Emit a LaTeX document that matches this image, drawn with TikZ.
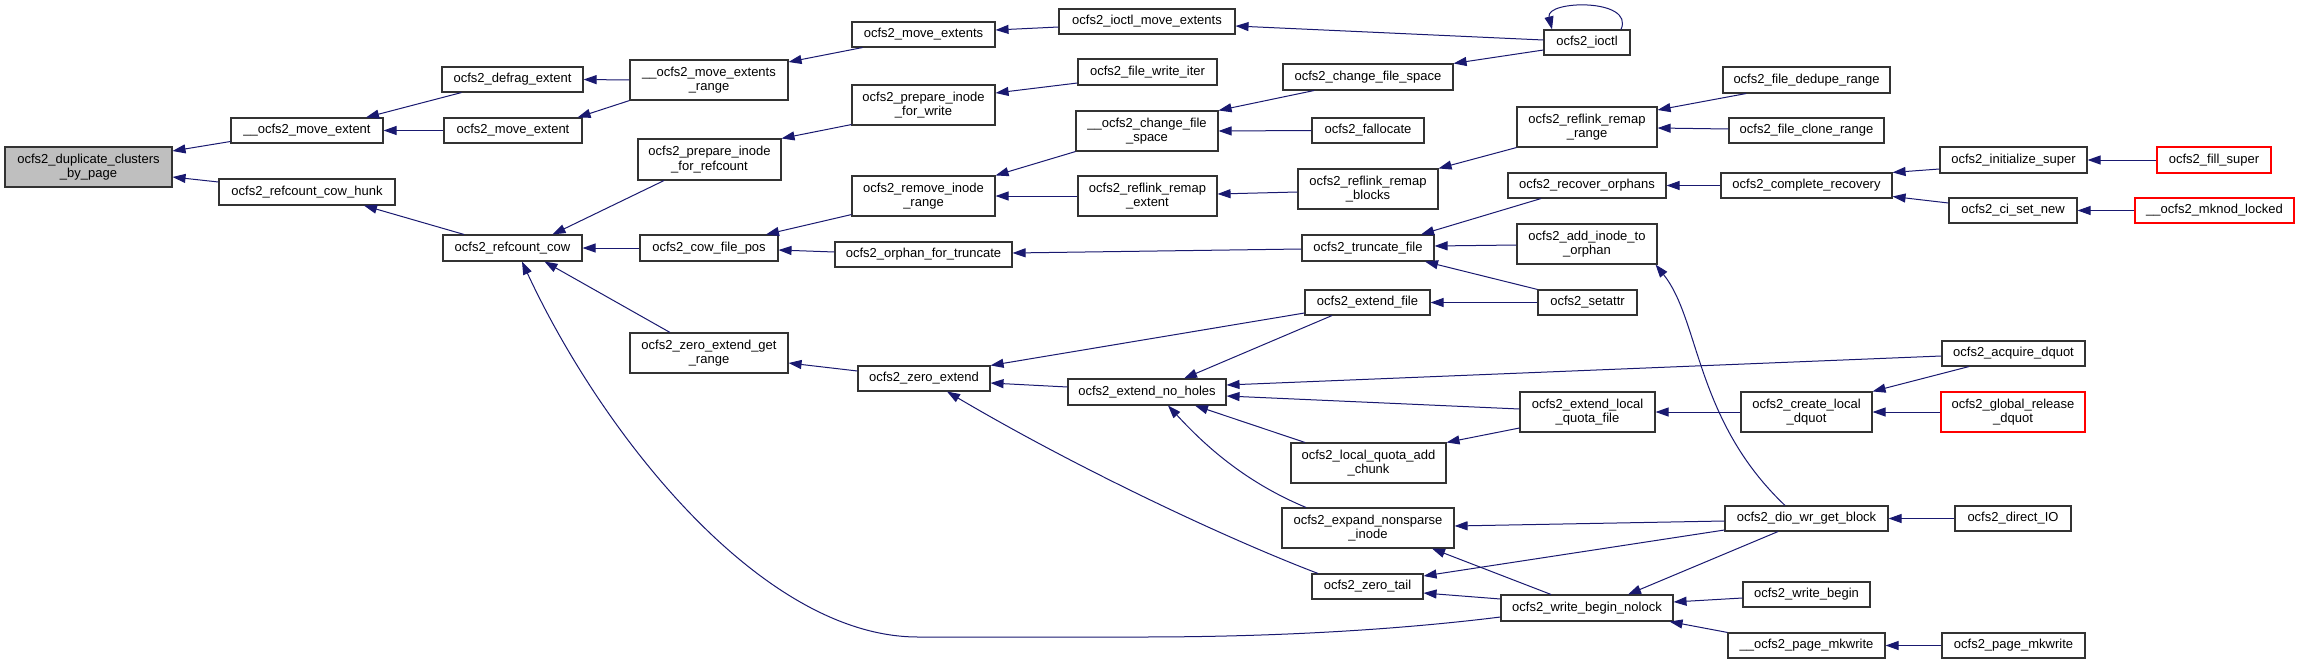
\documentclass[tikz,border=0pt]{standalone}
\usepackage{fontspec}
\setmainfont{Liberation Sans}
\usetikzlibrary{arrows.meta}
\definecolor{edgecol}{HTML}{191970}
\definecolor{bordcol}{HTML}{333333}
\definecolor{redcol}{HTML}{FF0000}
\definecolor{mainfill}{HTML}{BFBFBF}
\tikzset{
  bx/.style={draw=bordcol, line width=1.1pt, fill=white, inner sep=0pt, align=center,
    font=\fontsize{13}{14.3}\selectfont},
  redbx/.style={bx, draw=redcol},
  cl/.style={draw=edgecol, line width=1pt, {Triangle[length=13pt,width=9pt]}-},
}
\begin{document}
\begin{tikzpicture}[x=1pt,y=-1pt]
\useasboundingbox[fill=white] (0,0) rectangle (2299,664);
% column 0
\node[bx, fill=mainfill, minimum width=167pt, minimum height=40pt] (dup) at (88.5,167) {ocfs2\_duplicate\_clusters\\\_by\_page};
% column 1
\node[bx, minimum width=152pt, minimum height=25pt] (mvx) at (307,130.5) {\_\_ocfs2\_move\_extent};
\node[bx, minimum width=176pt, minimum height=26pt] (hunk) at (307,192) {ocfs2\_refcount\_cow\_hunk};
% column 2
\node[bx, minimum width=141pt, minimum height=25pt] (defrag) at (512.5,79.5) {ocfs2\_defrag\_extent};
\node[bx, minimum width=138pt, minimum height=25pt] (mve) at (513,130.5) {ocfs2\_move\_extent};
\node[bx, minimum width=139pt, minimum height=26pt] (rcow) at (512.5,248) {ocfs2\_refcount\_cow};
% column 3
\node[bx, minimum width=158pt, minimum height=40pt] (mer) at (709,80) {\_\_ocfs2\_move\_extents\\\_range};
\node[bx, minimum width=143pt, minimum height=41pt] (pfr) at (709.5,159.5) {ocfs2\_prepare\_inode\\\_for\_refcount};
\node[bx, minimum width=138pt, minimum height=26pt] (cfp) at (709,248) {ocfs2\_cow\_file\_pos};
\node[bx, minimum width=158pt, minimum height=40pt] (zegr) at (709,353) {ocfs2\_zero\_extend\_get\\\_range};
% column 4
\node[bx, minimum width=143pt, minimum height=25pt] (mves) at (923.5,34.5) {ocfs2\_move\_extents};
\node[bx, minimum width=143pt, minimum height=40pt] (pfw) at (923.5,105) {ocfs2\_prepare\_inode\\\_for\_write};
\node[bx, minimum width=143pt, minimum height=40pt] (rir) at (923.5,196) {ocfs2\_remove\_inode\\\_range};
\node[bx, minimum width=177pt, minimum height=25pt] (oft) at (923.5,254.5) {ocfs2\_orphan\_for\_truncate};
\node[bx, minimum width=132pt, minimum height=25pt] (zext) at (924,378.5) {ocfs2\_zero\_extend};
% column 5
\node[bx, minimum width=176pt, minimum height=25pt] (ime) at (1147,21.5) {ocfs2\_ioctl\_move\_extents};
\node[bx, minimum width=139pt, minimum height=26pt] (fwi) at (1147.5,72) {ocfs2\_file\_write\_iter};
\node[bx, minimum width=142pt, minimum height=40pt] (cfs2) at (1147,131) {\_\_ocfs2\_change\_file\\\_space};
\node[bx, minimum width=139pt, minimum height=40pt] (rre) at (1147.5,196) {ocfs2\_reflink\_remap\\\_extent};
\node[bx, minimum width=158pt, minimum height=26pt] (enh) at (1147,392) {ocfs2\_extend\_no\_holes};
% column 6
\node[bx, minimum width=170pt, minimum height=26pt] (cfs) at (1368,77) {ocfs2\_change\_file\_space};
\node[bx, minimum width=112pt, minimum height=25pt] (fal) at (1368,130.5) {ocfs2\_fallocate};
\node[bx, minimum width=140pt, minimum height=40pt] (rrb) at (1368,189) {ocfs2\_reflink\_remap\\\_blocks};
\node[bx, minimum width=132pt, minimum height=26pt] (trf) at (1368,248) {ocfs2\_truncate\_file};
\node[bx, minimum width=125pt, minimum height=25pt] (exf) at (1367.5,302.5) {ocfs2\_extend\_file};
\node[bx, minimum width=155pt, minimum height=40pt] (lqa) at (1368.5,463) {ocfs2\_local\_quota\_add\\\_chunk};
\node[bx, minimum width=172pt, minimum height=40pt] (ens) at (1368,528) {ocfs2\_expand\_nonsparse\\\_inode};
\node[bx, minimum width=111pt, minimum height=25pt] (zt) at (1367.5,586.5) {ocfs2\_zero\_tail};
% column 7
\node[bx, minimum width=86pt, minimum height=25pt] (ioctl) at (1587,42.5) {ocfs2\_ioctl};
\node[bx, minimum width=140pt, minimum height=40pt] (rrr) at (1587,127) {ocfs2\_reflink\_remap\\\_range};
\node[bx, minimum width=158pt, minimum height=25pt] (ro) at (1587,185.5) {ocfs2\_recover\_orphans};
\node[bx, minimum width=140pt, minimum height=40pt] (aio) at (1587,244) {ocfs2\_add\_inode\_to\\\_orphan};
\node[bx, minimum width=99pt, minimum height=25pt] (set) at (1587.5,302.5) {ocfs2\_setattr};
\node[bx, minimum width=135pt, minimum height=40pt] (elq) at (1587.5,412) {ocfs2\_extend\_local\\\_quota\_file};
\node[bx, minimum width=172pt, minimum height=26pt] (wbn) at (1587,608) {ocfs2\_write\_begin\_nolock};
% column 8
\node[bx, minimum width=167pt, minimum height=26pt] (fdr) at (1806.5,80) {ocfs2\_file\_dedupe\_range};
\node[bx, minimum width=155pt, minimum height=25pt] (fcr) at (1806.5,130.5) {ocfs2\_file\_clone\_range};
\node[bx, minimum width=171pt, minimum height=25pt] (cr) at (1806.5,185.5) {ocfs2\_complete\_recovery};
\node[bx, minimum width=131pt, minimum height=40pt] (cld) at (1806.5,412) {ocfs2\_create\_local\\\_dquot};
\node[bx, minimum width=163pt, minimum height=25pt] (dio) at (1806.5,518.5) {ocfs2\_dio\_wr\_get\_block};
\node[bx, minimum width=127pt, minimum height=25pt] (wb) at (1806.5,594.5) {ocfs2\_write\_begin};
\node[bx, minimum width=157pt, minimum height=25pt] (pmw2) at (1806.5,645.5) {\_\_ocfs2\_page\_mkwrite};
% column 9
\node[bx, minimum width=147pt, minimum height=26pt] (is) at (2013.5,160) {ocfs2\_initialize\_super};
\node[bx, minimum width=128pt, minimum height=25pt] (csn) at (2013,210.5) {ocfs2\_ci\_set\_new};
\node[bx, minimum width=143pt, minimum height=25pt] (aq) at (2013.5,353.5) {ocfs2\_acquire\_dquot};
\node[redbx, minimum width=144pt, minimum height=40pt] (grd) at (2013,412) {ocfs2\_global\_release\\\_dquot};
\node[bx, minimum width=116pt, minimum height=25pt] (dio2) at (2013,518.5) {ocfs2\_direct\_IO};
\node[bx, minimum width=143pt, minimum height=25pt] (pmw) at (2013.5,645.5) {ocfs2\_page\_mkwrite};
% column 10
\node[redbx, minimum width=114pt, minimum height=26pt] (fs) at (2214,160) {ocfs2\_fill\_super};
\node[redbx, minimum width=159pt, minimum height=25pt] (mkn) at (2214.5,210.5) {\_\_ocfs2\_mknod\_locked};
% edges
\draw[cl] ([yshift=16pt]dup.east) -- ([yshift=-11pt]mvx.west);
\draw[cl] ([yshift=-10pt]dup.east) -- ([yshift=10pt]hunk.west);
\draw[cl] ([xshift=59pt]mvx.north) -- ([xshift=-51pt]defrag.south);
\draw[cl] (mvx.east) -- (mve.west);
\draw[cl] (defrag.east) -- (mer.west);
\draw[cl] ([xshift=-5pt]mve.north east) -- (mer.south west);
\draw[cl] ([yshift=18pt]mer.east) -- ([xshift=-61pt]mves.south);
\draw[cl] ([yshift=4.5pt]mves.east) -- ([yshift=-5.5pt]ime.west);
\draw[cl] ([yshift=-4.5pt]ime.east) -- ([yshift=2.5pt]ioctl.west);
\draw[cl] ([xshift=-35pt]ioctl.north) .. controls (1545,0) and (1635,-2) .. ([xshift=34pt]ioctl.north);
\draw[cl] ([xshift=57pt]hunk.south) -- ([xshift=-48.5pt]rcow.north);
\draw[cl] ([xshift=40pt]rcow.north) -- ([xshift=-45.5pt]pfr.south);
\draw[cl] (rcow.east) -- (cfp.west);
\draw[cl] ([xshift=32pt]rcow.south) -- ([xshift=-39pt]zegr.north);
\draw[cl] ([xshift=9.5pt]rcow.south) .. controls (600,430) and (760,637) .. (918,637) -- (1140,637) .. controls (1300,637) and (1420,627) .. ([yshift=-9pt]wbn.west);
\draw[cl] (pfr.north east) -- ([yshift=1pt]pfw.south west);
\draw[cl] ([yshift=12pt]pfw.east) -- ([yshift=-11pt]fwi.west);
\draw[cl] ([xshift=57pt]cfp.north) -- ([yshift=2pt]rir.south west);
\draw[cl] ([yshift=-2pt]cfp.east) -- ([yshift=2.5pt]oft.west);
\draw[cl] (rir.north east) -- (cfs2.south west);
\draw[cl] (rir.east) -- (rre.west);
\draw[cl] (cfs2.north east) -- ([xshift=-54pt]cfs.south);
\draw[cl] (cfs2.east) -- (fal.west);
\draw[cl] (cfs.north east) -- ([yshift=-7.5pt]ioctl.west);
\draw[cl] ([yshift=2pt]rre.east) -- ([yshift=-3pt]rrb.west);
\draw[cl] (rrb.north east) -- (rrr.south west);
\draw[cl] ([yshift=17pt]rrr.east) -- ([xshift=-60.5pt]fdr.south);
\draw[cl] ([yshift=-1pt]rrr.east) -- ([yshift=1.5pt]fcr.west);
\draw[cl] ([yshift=1.5pt]oft.east) -- ([yshift=-1pt]trf.west);
\draw[cl] ([xshift=53pt]trf.north) -- ([xshift=-46pt]ro.south);
\draw[cl] ([yshift=2pt]trf.east) -- ([yshift=-1pt]aio.west);
\draw[cl] ([xshift=57pt]trf.south) -- (set.north west);
\draw[cl] (ro.east) -- (cr.west);
\draw[cl] (cr.north east) -- ([yshift=-9pt]is.west);
\draw[cl] ([yshift=-11pt]cr.east) -- ([yshift=7.5pt]csn.west);
\draw[cl] (is.east) -- (fs.west);
\draw[cl] (csn.east) -- (mkn.west);
\draw[cl] ([xshift=-2pt]aio.south east) .. controls (1700,320) and (1695,420) .. ([xshift=-21.5pt]dio.north);
\draw[cl] ([yshift=-10pt]zegr.east) -- ([yshift=7.5pt]zext.west);
\draw[cl] (zext.north east) -- ([yshift=-10.5pt]exf.west);
\draw[cl] ([yshift=-4.5pt]zext.east) -- ([yshift=5pt]enh.west);
\draw[cl] ([xshift=23pt]zext.south) .. controls (1080,470) and (1230,540) .. ([xshift=-49.5pt]zt.north);
\draw[cl] ([xshift=37pt]enh.north) -- ([xshift=-35.5pt]exf.south);
\draw[cl] ([yshift=7pt]enh.east) -- ([yshift=-2.5pt]aq.west);
\draw[cl] ([yshift=-4pt]enh.east) -- ([yshift=3pt]elq.west);
\draw[cl] ([xshift=48pt]enh.south) -- ([xshift=-63.5pt]lqa.north);
\draw[cl] ([xshift=21pt]enh.south) .. controls (1200,440) and (1240,480) .. ([xshift=-62pt]ens.north);
\draw[cl] (exf.east) -- (set.west);
\draw[cl] (lqa.north east) -- ([yshift=-16pt]elq.west);
\draw[cl] (elq.east) -- (cld.west);
\draw[cl] (cld.north east) -- ([xshift=-44.5pt]aq.south);
\draw[cl] (cld.east) -- (grd.west);
\draw[cl] ([yshift=2pt]ens.east) -- ([yshift=-2.5pt]dio.west);
\draw[cl] ([xshift=64pt]ens.south) -- ([xshift=-36pt]wbn.north);
\draw[cl] ([yshift=10.5pt]zt.east) -- ([yshift=-11.5pt]dio.west);
\draw[cl] ([yshift=-6.5pt]zt.east) -- ([yshift=9pt]wbn.west);
\draw[cl] ([xshift=41pt]wbn.north) -- ([xshift=-28.5pt]dio.south);
\draw[cl] ([yshift=6pt]wbn.east) -- ([yshift=-3.5pt]wb.west);
\draw[cl] ([xshift=-4pt]wbn.south east) -- (pmw2.north west);
\draw[cl] (dio.east) -- (dio2.west);
\draw[cl] (pmw2.east) -- (pmw.west);
\end{tikzpicture}
\end{document}
